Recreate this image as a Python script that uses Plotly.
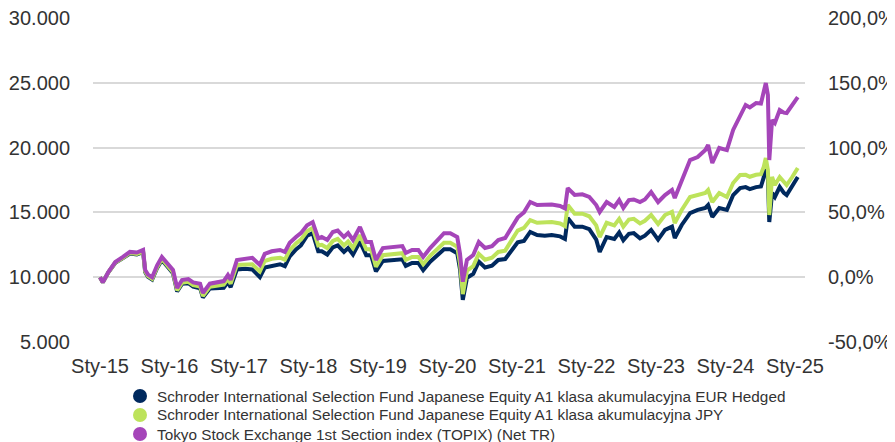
import plotly.graph_objects as go

# time points as decimal years
years = [
    2015.00, 2015.04, 2015.12, 2015.22, 2015.33, 2015.43, 2015.53, 2015.62, 2015.65, 2015.69,
    2015.75, 2015.82, 2015.89, 2015.96, 2016.05, 2016.11, 2016.18, 2016.27, 2016.34, 2016.44,
    2016.48, 2016.58, 2016.70, 2016.78, 2016.84, 2016.88, 2016.97, 2017.09, 2017.19, 2017.30,
    2017.37, 2017.47, 2017.59, 2017.66, 2017.73, 2017.82, 2017.89, 2017.98, 2018.06, 2018.14,
    2018.19, 2018.27, 2018.35, 2018.42, 2018.51, 2018.57, 2018.64, 2018.74, 2018.83, 2018.90,
    2018.97, 2019.07, 2019.17, 2019.24, 2019.35, 2019.40, 2019.49, 2019.58, 2019.65, 2019.75,
    2019.85, 2019.95, 2020.04, 2020.11, 2020.14, 2020.18, 2020.22, 2020.28, 2020.37, 2020.45,
    2020.54, 2020.64, 2020.73, 2020.83, 2020.90, 2021.01, 2021.10, 2021.19, 2021.29, 2021.40,
    2021.50, 2021.62, 2021.69, 2021.73, 2021.83, 2021.94, 2022.04, 2022.14, 2022.19, 2022.29,
    2022.40, 2022.47, 2022.53, 2022.61, 2022.68, 2022.77, 2022.84, 2022.93, 2023.03, 2023.13,
    2023.23, 2023.27, 2023.37, 2023.49, 2023.60, 2023.71, 2023.75, 2023.81, 2023.91, 2024.02,
    2024.11, 2024.21, 2024.29, 2024.35, 2024.44, 2024.51, 2024.55, 2024.58, 2024.61, 2024.63,
    2024.67, 2024.71, 2024.78, 2024.84, 2024.88, 2024.96, 2025.04,
]

topix = [
    10000, 9600, 10400, 11170, 11560, 11950, 11900, 12100, 10560, 10200,
    10000, 10900, 11560, 11100, 10560, 9170, 9780, 9850, 9600, 9500,
    8780, 9500, 9630, 9700, 10170, 9800, 11330, 11400, 11500, 10950,
    11800, 12000, 12100, 11950, 12650, 13100, 13400, 14000, 14250, 13000,
    13100, 12870, 13490, 13600, 13100, 13400, 12870, 13870, 12720, 12720,
    11330, 12250, 12300, 12330, 12400, 11870, 12100, 12100, 11560, 12250,
    12870, 13400, 13400, 13200, 13100, 11800, 9650, 11330, 11710, 12720,
    12250, 12400, 12870, 13030, 13650, 14600, 15000, 15800, 15570, 15570,
    15600, 15500, 15300, 16880, 16340, 16400, 16200, 15570, 15030, 15800,
    15420, 15950, 15340, 15950, 16000, 15800, 16000, 16570, 15800, 16340,
    16730, 16110, 17500, 19040, 19270, 19810, 20200, 18810, 19970, 19810,
    21360, 22360, 23290, 23100, 23440, 23400, 24210, 24980, 24060, 19040,
    22130, 21900, 22900, 22700, 22670, 23290, 23900,
]

jpy = [
    10000, 9600, 10380, 11130, 11500, 11870, 11800, 11980, 10450, 10080,
    9870, 10760, 11400, 10930, 10380, 8980, 9580, 9640, 9380, 9270,
    8550, 9260, 9370, 9430, 9880, 9500, 10950, 11000, 11000, 10450,
    11250, 11420, 11500, 11350, 12080, 12600, 12900, 13550, 13800, 12450,
    12500, 12250, 12800, 12950, 12450, 12750, 12250, 13250, 12150, 12150,
    10800, 11700, 11750, 11800, 11850, 11330, 11560, 11560, 11000, 11650,
    12200, 12650, 12650, 12450, 12350, 11050, 8700, 10500, 10850, 11800,
    11350, 11500, 11950, 12050, 12650, 13600, 13800, 14410, 14200, 14200,
    14250, 14150, 13950, 15570, 14900, 14900, 14700, 14000, 13100, 14200,
    14000, 14500, 13900, 14450, 14500, 14150, 14350, 14800, 14100, 14800,
    15050, 14180, 15190, 16190, 16340, 16500, 16730, 15800, 16500, 16190,
    17270, 17890, 17900, 17750, 17900, 17950, 18500, 19200, 18270, 14800,
    17730, 17110, 17730, 17300, 17110, 17730, 18430,
]

eur_hedged = [
    10000, 9600, 10370, 11110, 11470, 11830, 11760, 11930, 10400, 10030,
    9820, 10700, 11330, 10860, 10300, 8900, 9490, 9540, 9270, 9150,
    8430, 9120, 9120, 9180, 9620, 9230, 10600, 10650, 10600, 10000,
    10750, 10900, 11000, 10850, 11600, 12150, 12450, 13200, 13400, 12000,
    12000, 11750, 12300, 12450, 11950, 12250, 11750, 12750, 11700, 11700,
    10450, 11250, 11300, 11330, 11380, 10870, 11100, 11100, 10550, 11200,
    11700, 12150, 12150, 11950, 11850, 10600, 8250, 9950, 10250, 11200,
    10750, 10880, 11330, 11400, 11900, 12700, 12800, 13490, 13250, 13200,
    13250, 13150, 12950, 14570, 13900, 13900, 13700, 12900, 11950, 13100,
    12950, 13450, 12850, 13350, 13400, 13000, 13200, 13650, 12900, 13650,
    13900, 13030, 14030, 14950, 15190, 15350, 15570, 14650, 15340, 15190,
    16340, 16880, 16950, 16800, 16950, 17000, 17700, 18500, 17730, 14260,
    16500, 16190, 16960, 16500, 16340, 17110, 17730,
]

tick_years = [2015, 2016, 2017, 2018, 2019, 2020, 2021, 2022, 2023, 2024, 2025]
tick_labels = ["Sty-15", "Sty-16", "Sty-17", "Sty-18", "Sty-19", "Sty-20",
               "Sty-21", "Sty-22", "Sty-23", "Sty-24", "Sty-25"]
right_tick_vals = [-0.5, 0.0, 0.5, 1.0, 1.5, 2.0]
right_tick_labels = ["-50,0%", "0,0%", "50,0%", "100,0%", "150,0%", "200,0%"]

names = [
    "Schroder International Selection Fund Japanese Equity A1 klasa akumulacyjna EUR Hedged",
    "Schroder International Selection Fund Japanese Equity A1 klasa akumulacyjna JPY",
    "Tokyo Stock Exchange 1st Section index (TOPIX) (Net TR)",
]
colors = ["#00295E", "#BDE35B", "#A545B9"]
series = [eur_hedged, jpy, topix]

fig = go.Figure()
for name, col, vals in zip(names, colors, series):
    fig.add_trace(go.Scatter(x=years, y=vals, mode="lines", name=name,
                             line=dict(color=col, width=4), showlegend=False))
# secondary axis carrier (invisible)
fig.add_trace(go.Scatter(x=[years[0]], y=[0], yaxis="y2", mode="markers",
                         marker=dict(opacity=0), showlegend=False, hoverinfo="skip"))

# page body has an 8px margin: size the figure so it fits the 895x442 window
OFF = 8
FIG_W, FIG_H = 895 - OFF, 442 - OFF
L, T, W, H = 93 - OFF, 18 - OFF, 712, 324

# legend drawn as circle + text rows below the plot
row_px = [396 - OFF, 415 - OFF, 434 - OFF]
for name, col, ry in zip(names, colors, row_px):
    yc = (T + H - ry) / H
    fig.add_shape(type="circle", xref="paper", yref="paper",
                  x0=(133 - OFF - L) / W, x1=(147 - OFF - L) / W,
                  y0=yc - 7 / H, y1=yc + 7 / H,
                  fillcolor=col, line=dict(width=0))
    fig.add_annotation(x=(155 - OFF - L) / W, y=yc, xref="paper", yref="paper",
                       text=name, showarrow=False, xanchor="left", yanchor="middle",
                       font=dict(size=15.3, color="#333333"))

font_col = "#333333"
fig.update_layout(
    width=FIG_W, height=FIG_H,
    margin=dict(l=L, r=FIG_W - L - W, t=T, b=FIG_H - T - H, autoexpand=False),
    plot_bgcolor="white", paper_bgcolor="white",
    separators=",.",
    showlegend=False,
    font=dict(family="Liberation Sans, Arial, sans-serif", color=font_col, size=20),
    xaxis=dict(range=[2014.899, 2025.144], tickvals=tick_years, ticktext=tick_labels,
               showgrid=False, zeroline=False, showline=False, ticks="",
               tickfont=dict(size=20), automargin=False, ticklabelstandoff=10,
               ticklabeloverflow="allow"),
    yaxis=dict(range=[5000, 30000], dtick=5000, tickformat=",d", showgrid=True,
               gridcolor="#D9D9D9", gridwidth=2, zeroline=False, showline=False,
               ticks="", tickfont=dict(size=20), automargin=False,
               ticklabelstandoff=22, ticklabeloverflow="allow"),
    yaxis2=dict(range=[-0.5, 2.0], tickvals=right_tick_vals, ticktext=right_tick_labels,
                overlaying="y", side="right", showgrid=False, zeroline=False,
                showline=False, ticks="", tickfont=dict(size=20), automargin=False,
                ticklabelstandoff=22, ticklabeloverflow="allow"),
)

fig.write_html("out.html")
